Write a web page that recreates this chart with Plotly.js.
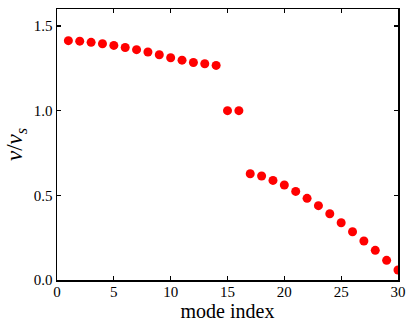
<!DOCTYPE html>
<html>
<head>
<meta charset="utf-8">
<script src="https://cdn.plot.ly/plotly-3.0.1.min.js"></script>
<style>html,body{margin:0;padding:0;background:#fff;}#chart{width:415px;height:327px;}</style>
</head>
<body>
<div id="chart"></div>
<script>
const modeIndex = [1,2,3,4,5,6,7,8,9,10,11,12,13,14,15,16,17,18,19,20,21,22,23,24,25,26,27,28,29,30];
const velocityRatio = [1.413,1.410,1.403,1.395,1.385,1.373,1.360,1.346,1.330,1.312,1.298,1.284,1.277,1.267,1.000,1.000,
  0.627,0.614,0.588,0.561,0.523,0.482,0.439,0.391,0.338,0.285,0.230,0.175,0.116,0.059];
const xTicks = [0,5,10,15,20,25,30];
const yTicks = [0.0,0.5,1.0,1.5];
const yTickText = ['0.0','0.5','1.0','1.5'];

const serif = 'Liberation Serif';
function axisCommon() {
  return {
    showgrid:false, zeroline:false, showline:true, linecolor:'#000', linewidth:1.5,
    mirror:'ticks', ticks:'inside', ticklen:4, tickwidth:1.2, tickcolor:'#000',
    tickfont:{family:serif, size:15, color:'#000'}
  };
}

Plotly.newPlot('chart', [{
  x: modeIndex, y: velocityRatio, type:'scatter', mode:'markers',
  marker:{color:'#ff0000', size:9}, cliponaxis:true
}], {
  width:415, height:327,
  margin:{l:57, r:17, t:9, b:47},
  paper_bgcolor:'#fff', plot_bgcolor:'#fff',
  showlegend:false,
  font:{family:serif, size:15, color:'#000'},
  xaxis: Object.assign(axisCommon(), {
    range:[0,30], tickvals:xTicks, ticktext:xTicks.map(String), ticklabelstandoff:-3,
    title:{text:'mode index', font:{family:serif, size:20, color:'#000'}, standoff:0}
  }),
  yaxis: Object.assign(axisCommon(), {
    range:[0,1.6], tickvals:yTicks, ticktext:yTickText, ticklabelstandoff:0,
    title:{text:'<i>v</i>/<i>v</i><sub><i>s</i></sub>', font:{family:serif, size:23, color:'#000'}, standoff:4}
  })
}, {displayModeBar:false, staticPlot:true});
</script>
</body>
</html>
